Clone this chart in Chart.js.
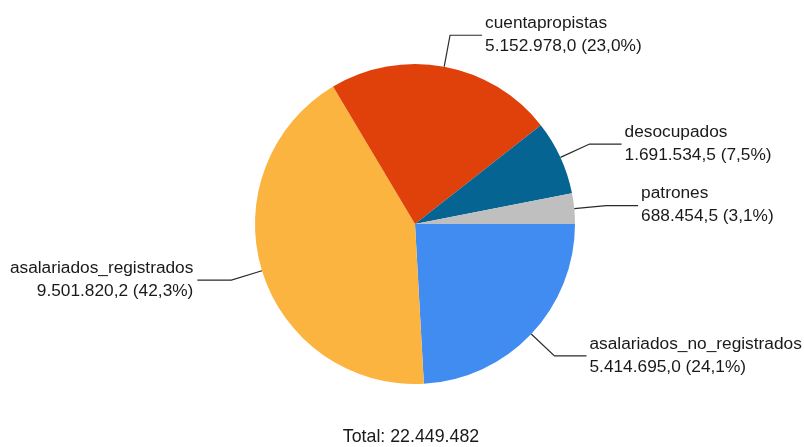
<!DOCTYPE html>
<html lang="es">
<head>
    <meta charset="UTF-8">
    <title>Total: 22.449.482</title>
    <script src="https://cdn.jsdelivr.net/npm/chart.js"></script>
    <style>
        body {
            margin: 0;
            padding: 0;
            background-color: #fff;
        }

        .chart-box {
            position: relative;
            width: 804px;
            height: 447px;
        }
    </style>
</head>
<body>
    <div class="chart-box">
        <canvas id="pieChart"></canvas>
    </div>

    <script>
        const categories = ['asalariados_no_registrados', 'asalariados_registrados', 'cuentapropistas', 'desocupados', 'patrones'];
        const values = [5414695.0, 9501820.2, 5152978.0, 1691534.5, 688454.5];
        const sliceColors = ['#418CF0', '#FCB441', '#E0400A', '#056492', '#BFBFBF'];
        const totalLabel = 'Total: 22.449.482';

        // formato es-AR: puntos de miles, coma decimal
        function fmt(n, dec) {
            const parts = n.toFixed(dec).split('.');
            const ent = parts[0].replace(/\B(?=(\d{3})+(?!\d))/g, '.');
            return parts.length > 1 ? ent + ',' + parts[1] : ent;
        }

        const total = values.reduce((a, b) => a + b, 0);

        const leaderLabels = {
            id: 'leaderLabels',
            afterDraw(chart) {
                const ctx = chart.ctx;
                const arcs = chart.getDatasetMeta(0).data;
                ctx.save();
                ctx.font = '17.3px "Liberation Sans", Arial, sans-serif';
                ctx.textBaseline = 'middle';
                arcs.forEach(function(arc, i) {
                    const mid = (arc.startAngle + arc.endAngle) / 2;
                    const r = arc.outerRadius;
                    const x0 = arc.x + Math.cos(mid) * r;
                    const y0 = arc.y + Math.sin(mid) * r;
                    const x1 = arc.x + Math.cos(mid) * (r + 32);
                    const y1 = arc.y + Math.sin(mid) * (r + 32);
                    const right = Math.cos(mid) >= 0;
                    const x2 = right ? x1 + 32 : x1 - 34;

                    ctx.strokeStyle = '#2a2a2a';
                    ctx.lineWidth = 1.2;
                    ctx.beginPath();
                    ctx.moveTo(x0, y0);
                    ctx.lineTo(x1, y1);
                    ctx.lineTo(x2, y1);
                    ctx.stroke();

                    const pct = fmt(values[i] / total * 100, 1) + '%';
                    ctx.fillStyle = '#1a1a1a';
                    ctx.textAlign = right ? 'left' : 'right';
                    const tx = right ? x2 + 3 : x2 - 4;
                    ctx.fillText(categories[i], tx, y1 - 12);
                    ctx.fillText(fmt(values[i], 1) + ' (' + pct + ')', tx, y1 + 11);
                });

                ctx.font = '17.8px "Liberation Sans", Arial, sans-serif';
                ctx.textAlign = 'center';
                ctx.fillStyle = '#1a1a1a';
                ctx.fillText(totalLabel, 411, 437);
                ctx.restore();
            }
        };

        new Chart(document.getElementById('pieChart'), {
            type: 'pie',
            data: {
                labels: categories,
                datasets: [{
                    data: values,
                    backgroundColor: sliceColors,
                    borderWidth: 0
                }]
            },
            options: {
                responsive: true,
                maintainAspectRatio: false,
                animation: false,
                rotation: 90,
                layout: {
                    padding: { left: 255, right: 229, top: 64, bottom: 63 }
                },
                plugins: {
                    legend: { display: false },
                    tooltip: { enabled: false }
                }
            },
            plugins: [leaderLabels]
        });
    </script>
</body>
</html>
